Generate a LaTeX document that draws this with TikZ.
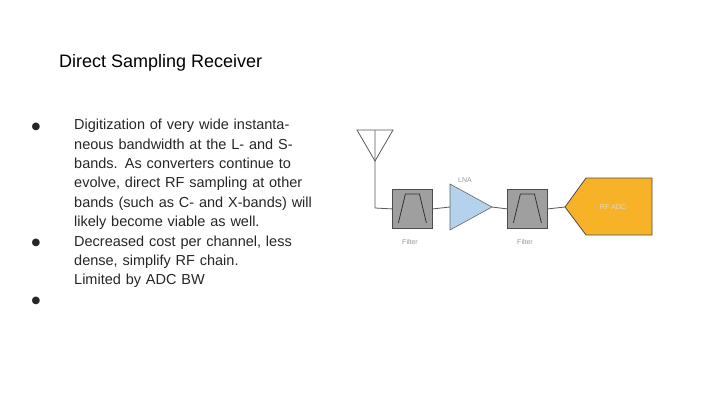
\documentclass[tikz,border=0pt]{standalone}
\usepackage{fontspec}
\setmainfont{Liberation Sans}
\newfontfamily\symf{DejaVu Sans}
\begin{document}
\begin{tikzpicture}[x=1pt,y=-1pt,
 wire/.style={draw=gray!70!black,line width=0.8pt},
 filt/.style={draw=black!70,fill=gray!75,line width=0.8pt,minimum width=40pt,minimum height=39pt,inner sep=0pt},
 lbl/.style={font=\fontsize{7}{8}\selectfont,text=gray!80},
 btxt/.style={font=\fontsize{14.5}{19.4}\selectfont,text=black!85,align=left,anchor=north west,inner sep=0pt,text width=240pt}]
\useasboundingbox (0,0) rectangle (720,405);
\node[anchor=west,inner sep=0pt,font=\fontsize{18}{20}\selectfont] (title) at (59,63) {Direct Sampling Receiver};
\node[btxt] (b1) at (74,119) {Digitization of very wide instantaneous bandwidth at the L- and S-bands. As converters continue to evolve, direct RF sampling at other bands (such as C- and X-bands) will likely become viable as well.\\Decreased cost per channel, less dense, simplify RF chain.\\Limited by ADC BW};
\foreach \y [count=\i] in {127,243,301}{\node[font=\symf\fontsize{10}{12}\selectfont,text=black!85] (d\i) at (36,\y) {●};}
% antenna
\draw[wire] (357,130) -- (393,130) -- (375,161) -- cycle;
\coordinate (at) at (375,130);
\coordinate (corner) at (375,208);
\node[filt,anchor=north west] (f1) at (392,189) {};
\node[filt,anchor=north west] (f2) at (507,189) {};
\draw[draw=black!60,fill={rgb,255:red,180;green,210;blue,235},line width=0.6pt] (450,184) -- (492,207) -- (450,230) -- cycle;
\coordinate (lnain) at (450,207);
\coordinate (lnaout) at (492,207);
\draw[draw=black!70,fill={rgb,255:red,247;green,178;blue,40},line width=0.8pt] (565,207) -- (586,178) -- (652,178) -- (652,235) -- (586,235) -- cycle;
\coordinate (adc) at (565,207);
\node[lbl,text=white!85!black] (adct) at (613,207) {RF ADC};
\draw[wire] (at) -- (corner) -- (f1.west);
\draw[wire] (f1.east) -- (lnain);
\draw[wire] (lnaout) -- (f2.west);
\draw[wire] (f2.east) -- (adc);
\foreach \f in {f1,f2}{\draw[black!80,line width=0.8pt] ([xshift=-14pt,yshift=-14pt]\f.center) -- ([xshift=-7pt,yshift=15pt]\f.center) -- ([xshift=7pt,yshift=15pt]\f.center) -- ([xshift=14pt,yshift=-14pt]\f.center);}
\node[lbl] (l1) at (410,242) {Filter};
\node[lbl] (l2) at (525,242) {Filter};
\node[lbl] (l3) at (465,180) {LNA};
\end{tikzpicture}
\end{document}
